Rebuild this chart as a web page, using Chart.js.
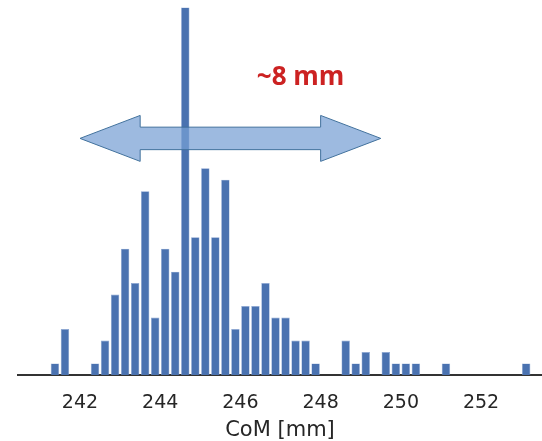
<!DOCTYPE html>
<html>
<head>
<meta charset="utf-8">
<script src="https://cdn.jsdelivr.net/npm/chart.js@4.4.0/dist/chart.umd.min.js"></script>
<style>
  html, body { margin: 0; padding: 0; background: #fff; }
  #wrap { width: 542px; height: 441px; }
</style>
</head>
<body>
<div id="wrap"><canvas id="c"></canvas></div>
<script>
// ═══ DATA ═══
// bin centres (0.25 mm bins) and counts per bin
const BIN_CENTERS = [
  241.375, 241.625, 241.875, 242.125, 242.375, 242.625, 242.875, 243.125,
  243.375, 243.625, 243.875, 244.125, 244.375, 244.625, 244.875, 245.125,
  245.375, 245.625, 245.875, 246.125, 246.375, 246.625, 246.875, 247.125,
  247.375, 247.625, 247.875, 248.125, 248.375, 248.625, 248.875, 249.125,
  249.375, 249.625, 249.875, 250.125, 250.375, 250.625, 250.875, 251.125,
  251.375, 251.625, 251.875, 252.125, 252.375, 252.625, 252.875, 253.125
];
const COUNTS = [
  1, 4, 0, 0, 1, 3, 7, 11,
  8, 16, 5, 11, 9, 32, 12, 18,
  12, 17, 4, 6, 6, 8, 5, 5,
  3, 3, 1, 0, 0, 3, 1, 2,
  0, 2, 1, 1, 1, 0, 0, 1,
  0, 0, 0, 0, 0, 0, 0, 1
];
const X_TICKS = [242, 244, 246, 248, 250, 252];
const X_TITLE = 'CoM [mm]';

// spread annotation: double arrow from 242 to 249.5 mm, label above
const SPREAD_LABEL = '~8 mm';
const ARROW = { from: 242.0, to: 249.5, head: 1.5, at: 20.6, shaft: 0.98, wing: 2.0 };
const LABEL_POS = { x: 247.5, y: 25.9 };

// ═══ ANNOTATION PLUGIN ═══
const spreadArrow = {
  id: 'spreadArrow',
  afterDatasetsDraw(chart) {
    const { ctx, scales: { x, y } } = chart;
    const xa = x.getPixelForValue(ARROW.from);
    const xb = x.getPixelForValue(ARROW.to);
    const ha = x.getPixelForValue(ARROW.from + ARROW.head);
    const hb = x.getPixelForValue(ARROW.to - ARROW.head);
    const yc = y.getPixelForValue(ARROW.at);
    const s = yc - y.getPixelForValue(ARROW.at + ARROW.shaft);
    const w = yc - y.getPixelForValue(ARROW.at + ARROW.wing);

    ctx.save();
    ctx.beginPath();
    ctx.moveTo(xa, yc);
    ctx.lineTo(ha, yc - w);
    ctx.lineTo(ha, yc - s);
    ctx.lineTo(hb, yc - s);
    ctx.lineTo(hb, yc - w);
    ctx.lineTo(xb, yc);
    ctx.lineTo(hb, yc + w);
    ctx.lineTo(hb, yc + s);
    ctx.lineTo(ha, yc + s);
    ctx.lineTo(ha, yc + w);
    ctx.closePath();
    ctx.fillStyle = 'rgba(119,160,212,0.72)';
    ctx.fill();
    ctx.strokeStyle = '#41719c';
    ctx.lineWidth = 1;
    ctx.stroke();

    ctx.fillStyle = '#cc2222';
    ctx.font = 'bold 26px "Open Sans", sans-serif';
    ctx.textAlign = 'center';
    ctx.textBaseline = 'middle';
    ctx.fillText(SPREAD_LABEL, x.getPixelForValue(LABEL_POS.x), y.getPixelForValue(LABEL_POS.y));
    ctx.restore();
  }
};

// ═══ CHART ═══
new Chart(document.getElementById('c'), {
  type: 'bar',
  data: {
    datasets: [{
      data: BIN_CENTERS.map((c, i) => ({ x: c, y: COUNTS[i] })),
      backgroundColor: '#4a72b0',
      borderColor: '#8aa6d4',
      borderWidth: 0.6,
      barPercentage: 0.84,
      categoryPercentage: 1.0,
    }]
  },
  options: {
    responsive: true,
    maintainAspectRatio: false,
    animation: false,
    layout: { padding: { left: 18, right: 0, top: 0, bottom: 0 } },
    plugins: { legend: { display: false }, tooltip: { enabled: false } },
    scales: {
      x: {
        type: 'linear',
        offset: false,
        min: 240.454,
        max: 253.52,
        afterBuildTicks: axis => { axis.ticks = X_TICKS.map(v => ({ value: v })); },
        afterFit: axis => { axis.height = 66; },
        grid: { display: false, drawTicks: false },
        border: { display: true, color: '#333333', width: 2 },
        ticks: {
          color: '#262626',
          padding: 17,
          font: { family: 'DejaVu Sans', size: 19 },
          callback: v => String(v),
          maxRotation: 0,
          autoSkip: false,
        },
        title: {
          display: true,
          text: X_TITLE,
          color: '#262626',
          font: { family: 'DejaVu Sans', size: 21, lineHeight: 1.0 },
          padding: { top: 0, bottom: 0 },
        }
      },
      y: {
        display: false,
        min: 0,
        max: 32.65,
      }
    }
  },
  plugins: [spreadArrow]
});
</script>
</body>
</html>
